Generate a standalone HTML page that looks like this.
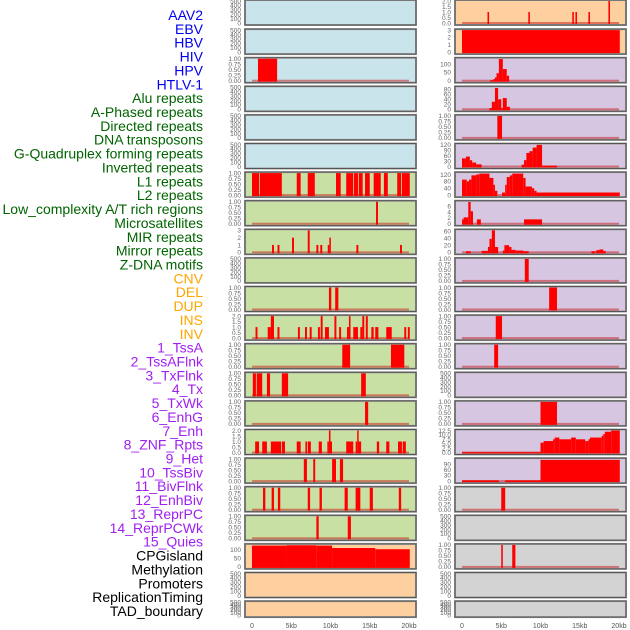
<!DOCTYPE html>
<html><head><meta charset="utf-8"><style>
html,body{margin:0;padding:0;background:#fff;}
svg{display:block;font-family:"Liberation Sans",sans-serif;}
</style></head><body>
<svg id="chart" width="630" height="630" viewBox="0 0 630 630" xmlns="http://www.w3.org/2000/svg"></svg>
<script>
// Track names and label colours
const trackNames = ["AAV2","EBV","HBV","HIV","HPV","HTLV-1","Alu repeats","A-Phased repeats","Directed repeats","DNA transposons","G-Quadruplex forming repeats","Inverted repeats","L1 repeats","L2 repeats","Low_complexity A/T rich regions","Microsatellites","MIR repeats","Mirror repeats","Z-DNA motifs","CNV","DEL","DUP","INS","INV","1_TssA","2_TssAFlnk","3_TxFlnk","4_Tx","5_TxWk","6_EnhG","7_Enh","8_ZNF_Rpts","9_Het","10_TssBiv","11_BivFlnk","12_EnhBiv","13_ReprPC","14_ReprPCWk","15_Quies","CPGisland","Methylation","Promoters","ReplicationTiming","TAD_boundary"];
const groupSizes = [6,13,5,15,5];
const groupLabelColors = ["#0000ee","#006400","#ffa500","#a020f0","#000000"];
const groupPanelColors = ["#c9e4eb","#c8e0a3","#fecf9f","#d6c6e2","#d3d3d3"];
const xTickValues = [0,5,10,15,20];
const xTickLabels = ["0","5kb","10kb","15kb","20kb"];

// Tick label sets
const tEmpty = ["0","100","200","300","400","500"];
const tUnit = ["0.00","0.25","0.50","0.75","1.00"];
// Segments: [startKb, endKb, value]
const s00 = [], s01 = [];
const s02 = [[0.76,3.2,1]];
const s03 = [], s04 = [], s05 = [];
const s06 = [[0,0.9,1],[1.0,3.8,1],[5.7,6.2,1],[7.1,8.0,1],[10.7,11.3,1],[12.0,12.9,1],[13.0,13.5,1],[13.6,14.1,1],[14.4,15.0,1],[15.5,16.4,1],[16.8,17.3,1],[18.5,19.0,1],[19.1,20.1,1]];
const s07 = [[15.8,16.05,1]];
const s08 = [[2.55,2.8,1],[3.25,3.5,1],[5.1,5.35,2],[7.1,7.35,3],[8.2,8.45,1],[8.7,8.95,1],[9.65,9.85,1],[9.85,10.05,2],[13.3,13.55,1],[18.85,19.1,1]];
const s09 = [];
const s10 = [[9.8,10.1,1],[10.6,11.0,1]];
const s11 = [[0.45,0.7,1],[2.0,2.4,1],[2.4,2.8,2],[3.25,3.5,1],[5.85,6.1,1],[6.75,7.0,1],[7.35,7.6,1],[8.4,8.65,1],[8.75,9.0,2],[9.3,9.8,1],[10.5,10.75,2],[11.1,11.35,1],[12.1,12.35,1],[12.35,12.55,2],[12.9,13.5,1],[13.8,14.05,1],[14.05,14.3,2],[14.5,14.75,2],[15.2,15.5,1],[15.7,16.1,1],[17.1,17.8,1],[19.4,19.65,1],[19.85,20.1,1]];
const s12 = [[11.5,12.5,1],[17.7,19.4,1]];
const s13 = [[0.1,0.5,1],[0.6,1.3,1],[1.9,2.3,1],[3.8,4.6,1],[13.9,14.5,1]];
const s14 = [[14.4,14.8,1]];
const s15 = [[0.4,0.9,1],[1.3,1.9,1],[2.4,3.7,1],[3.8,4.2,1],[5.7,6.2,1],[6.8,7.0,1],[7.1,7.5,1],[8.5,8.9,1],[9.6,9.8,1],[9.8,10.0,2],[10.0,10.1,1],[12.0,12.9,1],[13.2,13.4,1],[13.4,13.55,2],[13.55,13.9,1],[15.9,16.2,1],[17.1,17.5,1],[18.6,19.1,1],[19.2,19.6,1]];
const s16 = [[6.6,7.0,1],[7.8,8.05,1],[10.2,10.7,1],[11.2,11.6,1]];
const s17 = [[1.4,1.7,1],[2.5,2.8,1],[3.3,3.6,1],[7.1,7.4,1],[8.6,8.9,1],[11.8,12.2,1],[13.2,13.8,1],[15.0,15.4,1],[18.7,19.0,1]];
const s18 = [[8.2,8.5,1],[12.2,12.6,1]];
const s19 = [[0,4.4,123],[4.4,8.2,125],[8.2,10.2,123],[10.2,15.7,109],[15.7,20.1,102]];
const s20 = [], s21 = [];
const r00 = [[3.25,3.45,1],[8.45,8.65,1],[14.05,14.25,1],[14.45,14.65,1],[16.1,16.3,1],[18.65,18.85,2]];
const r01 = [[0,20.1,3]];
const r02 = [[3.6,4.0,3],[4.0,4.2,10],[4.2,4.4,20],[4.4,4.7,45],[4.7,5.2,130],[5.2,5.7,70],[5.7,6.0,30]];
const r03 = [[3.5,3.8,5],[3.8,4.2,30],[4.2,4.6,85],[4.6,5.0,40],[5.0,5.2,5],[5.2,5.7,45],[5.7,6.1,10]];
const r04 = [[4.5,5.1,1]];
const r05 = [[0,0.5,45],[0.5,1.0,55],[1.0,1.3,35],[1.3,1.8,22],[1.8,2.5,12],[7.6,7.9,10],[7.9,8.2,35],[8.2,8.6,75],[8.6,9.0,85],[9.0,9.5,105],[9.5,10.2,120],[10.2,12.1,5]];
const r06 = [[0,0.6,90],[0.6,0.9,80],[0.9,1.2,90],[1.2,1.8,115],[1.8,2.2,120],[2.2,3.5,125],[3.5,4.0,100],[4.0,4.2,60],[4.2,4.5,25],[5.1,5.5,15],[5.5,5.7,60],[5.7,6.1,105],[6.1,6.4,115],[6.4,7.8,125],[7.8,8.1,100],[8.1,8.9,50],[8.9,9.2,40],[9.2,9.5,25],[9.5,20.1,15]];
const r07 = [[0,0.2,1.5],[0.2,0.8,2.2],[0.8,1.1,7.5],[1.1,1.4,4.3],[1.9,2.4,1.5],[7.9,10.2,1.5]];
const r08 = [[0.5,1.1,3],[2.5,3.3,4],[3.3,3.5,15],[3.5,3.8,38],[3.8,4.2,62],[4.2,4.6,15],[5.2,5.4,5],[5.4,6.0,20],[6.0,6.3,15],[6.3,6.8,7],[6.8,7.8,5],[7.8,8.5,3],[16.5,17.0,3],[17.1,17.5,6],[17.5,18.0,8],[18.0,18.3,4]];
const r09 = [[8.0,8.5,1]];
const r10 = [[11.1,12.1,1]];
const r11 = [[4.3,5.1,1]];
const r12 = [[4.1,4.6,1]];
const r13 = [];
const r14 = [[10.0,12.1,1]];
const r15 = [[0,10.0,0.2],[10.0,10.4,5.6],[10.4,11.6,6.5],[11.6,11.8,7.5],[11.8,12.4,8.5],[12.4,13.9,7.5],[13.9,14.5,8.5],[14.5,15.7,7.5],[15.7,16.1,6.5],[16.1,16.3,7.5],[16.3,17.8,8.5],[17.8,18.0,9.5],[18.0,18.2,10.5],[18.2,19.0,11.8],[19.0,20.1,12.5]];
const r16 = [[0,4.7,4],[5.5,10.0,4],[10.0,20.1,112]];
const r17 = [[5.0,5.5,1]];
const r18 = [];
const r19 = [[5.0,5.2,1],[6.4,6.8,1]];
const r20 = [], r21 = [];

const leftSegs = [s00,s01,s02,s03,s04,s05,s06,s07,s08,s09,s10,s11,s12,s13,s14,s15,s16,s17,s18,s19,s20,s21];
const rightSegs = [r00,r01,r02,r03,r04,r05,r06,r07,r08,r09,r10,r11,r12,r13,r14,r15,r16,r17,r18,r19,r20,r21];
const leftYMax = [500,500,1,500,500,500,1,1,3,500,1,2,1,1,1,2,1,1,1,127,500,500];
const rightYMax = [2,3,132,88,1,122,128,7.6,62,1,1,1,1,500,1,12.5,116,1,500,1,500,500];
const leftTicks = [tEmpty,tEmpty,tUnit,tEmpty,tEmpty,tEmpty,tUnit,tUnit,["0","1","2","3"],tEmpty,tUnit,["0.0","0.5","1.0","1.5","2.0"],tUnit,tUnit,tUnit,["0.0","0.5","1.0","1.5","2.0"],tUnit,tUnit,tUnit,["0","50","100"],tEmpty,tEmpty];
const rightTicks = [["0.0","0.5","1.0","1.5","2.0"],["0","1","2","3"],["0","50","100"],["0","20","40","60","80"],tUnit,["0","30","60","90","120"],["0","40","80","120"],["0","2","4","6"],["0","20","40","60"],tUnit,tUnit,tUnit,tUnit,tEmpty,tUnit,["0.0","2.5","5.0","7.5","10.0","12.5"],["0","30","60","90"],tUnit,tEmpty,tUnit,tEmpty,tEmpty];

const NS = "http://www.w3.org/2000/svg";
const svg = document.getElementById("chart");
function mk(tag, attrs, parent){ const e=document.createElementNS(NS,tag); for(const k in attrs) e.setAttribute(k,attrs[k]); (parent||svg).appendChild(e); return e; }

const groupOf = [];
groupSizes.forEach((n,g)=>{ for(let i=0;i<n;i++) groupOf.push(g); });

trackNames.forEach((name,i)=>{
  const t = mk("text",{x:203,y:15+i*13.86+5,"text-anchor":"end","font-size":"14",fill:groupLabelColors[groupOf[i]]});
  t.textContent = name;
  
  
});

const cols = [{x0:245,x1:416,zero:252,segs:leftSegs,ymax:leftYMax,ticks:leftTicks,offset:0},
              {x0:455,x1:626,zero:462,segs:rightSegs,ymax:rightYMax,ticks:rightTicks,offset:22}];
const kbPx = 7.85;
function xScale(col,kb){ return col.zero + kb*kbPx; }

cols.forEach((col,ci)=>{
  for(let r=0;r<22;r++){
    const top = r*28.6 + (r===0?0:0.5);
    const h = r===21 ? 16 : 25;
    const bottom = top+h;
    const trackIdx = col.offset + r;
    const g = mk("g",{});
    
    
    mk("rect",{x:col.x0,y:top,width:col.x1-col.x0,height:h,fill:groupPanelColors[groupOf[trackIdx]],stroke:"#9a9a9a","stroke-width":"2"},g);
    mk("rect",{x:col.x0,y:top,width:col.x1-col.x0,height:h,fill:"none",stroke:"#555","stroke-width":"1"},g);
    const segs = col.segs[r], ymax = col.ymax[r];
    const base = bottom-2, span = h-3;
    const yS = v => base - Math.min(v/ymax,1)*span;
    const ticks = col.ticks[r];
    ticks.forEach((lab,k)=>{
      const tv = parseFloat(lab);
      const yy = (ymax===500) ? base - (tv/500)*span : yS(tv);
      const t = mk("text",{x:col.x0-4,y:yy+2.3,"text-anchor":"end","font-size":"6.5",fill:"#666"},g);
      t.textContent = lab;
      
      
    });
    if(segs.length){
      const bl = mk("rect",{x:xScale(col,0),y:base-1,width:xScale(col,20)-xScale(col,0),height:2,fill:"rgba(200,0,0,0.45)"},g);
      
      
      segs.forEach(s=>{
        const x1 = xScale(col,s[0]), x2 = xScale(col,s[1]);
        const y = yS(s[2]);
        const b = mk("rect",{x:x1,y:y,width:Math.max(x2-x1,1.5),height:base-y+1,fill:"#ff0000"},g);
        
        
      });
    }
  }
  xTickValues.forEach((v,k)=>{
    const t = mk("text",{x:xScale(col,v),y:628,"text-anchor":"middle","font-size":"7",fill:"#555"});
    t.textContent = xTickLabels[k];
    
    
  });
});
</script>
</body></html>
